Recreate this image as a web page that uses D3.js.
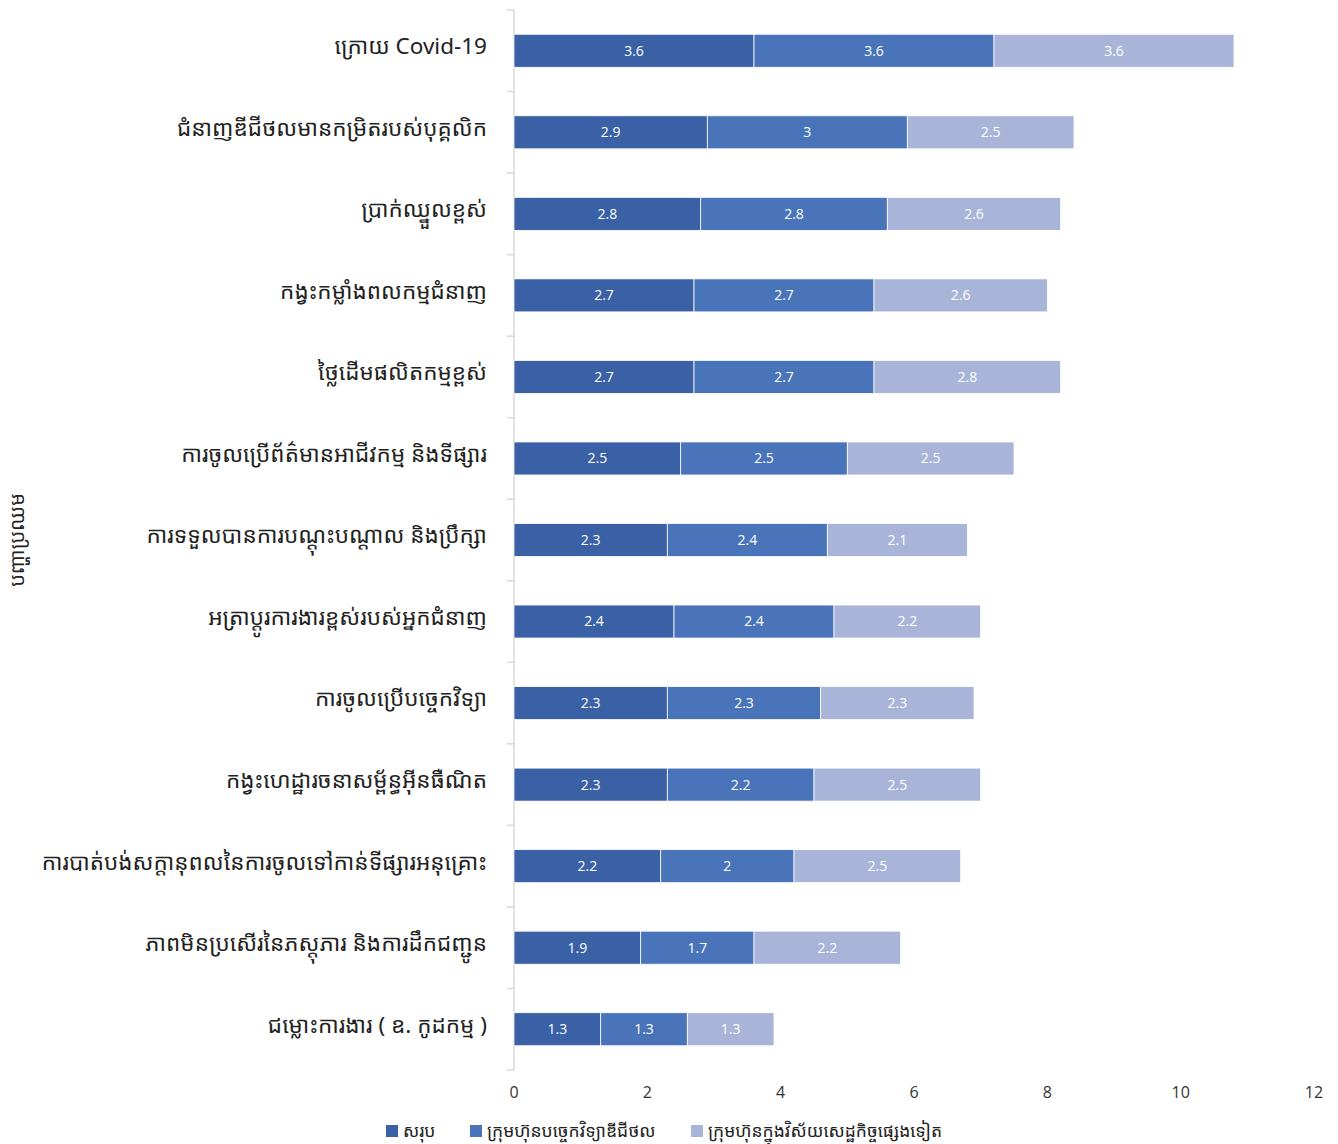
<!DOCTYPE html>
<html>
<head>
<meta charset="utf-8">
<script src="https://cdn.jsdelivr.net/npm/d3@7"></script>
<style>
  body { margin: 0; background: #fff; }
  svg text { font-family: "Noto Sans Khmer", "Khmer OS", "Noto Sans", "DejaVu Sans", sans-serif; }
</style>
</head>
<body>
<div id="chart"></div>
<script>
// categories, top to bottom
var categories = [
    "ក្រោយ Covid-19",
    "ជំនាញឌីជីថលមានកម្រិតរបស់បុគ្គលិក",
    "ប្រាក់ឈ្នួលខ្ពស់",
    "កង្វះកម្លាំងពលកម្មជំនាញ",
    "ថ្លៃដើមផលិតកម្មខ្ពស់",
    "ការចូលប្រើព័ត៌មានអាជីវកម្ម និងទីផ្សារ",
    "ការទទួលបានការបណ្តុះបណ្តាល និងប្រឹក្សា",
    "អត្រាប្តូរការងារខ្ពស់របស់អ្នកជំនាញ",
    "ការចូលប្រើបច្ចេកវិទ្យា",
    "កង្វះហេដ្ឋារចនាសម្ព័ន្ធអ៊ីនធឺណិត",
    "ការបាត់បង់សក្តានុពលនៃការចូលទៅកាន់ទីផ្សារអនុគ្រោះ",
    "ភាពមិនប្រសើរនៃភស្តុភារ និងការដឹកជញ្ជូន",
    "ជម្លោះការងារ ( ឧ. កូដកម្ម )"
];

var seriesNames = ["សរុប", "ក្រុមហ៊ុនបច្ចេកវិទ្យាឌីជីថល", "ក្រុមហ៊ុនក្នុងវិស័យសេដ្ឋកិច្ចផ្សេងទៀត"];

var total   = [3.6, 2.9, 2.8, 2.7, 2.7, 2.5, 2.3, 2.4, 2.3, 2.3, 2.2, 1.9, 1.3];
var digital = [3.6, 3,   2.8, 2.7, 2.7, 2.5, 2.4, 2.4, 2.3, 2.2, 2,   1.7, 1.3];
var other   = [3.6, 2.5, 2.6, 2.6, 2.8, 2.5, 2.1, 2.2, 2.3, 2.5, 2.5, 2.2, 1.3];

var xTicks = [0, 2, 4, 6, 8, 10, 12];
var axisTitle = "បញ្ហាប្រឈម";

var width = 1338,
    height = 1144,
    margin = {top: 10, right: 24, bottom: 74, left: 514};

var colors = ["#3A60A5", "#4A74BA", "#A9B5D8"];

// table for the stack
var rows = categories.map(function (c, i) {
    return {cat: c, s0: total[i], s1: digital[i], s2: other[i]};
});

var stack = d3.stack().keys(["s0", "s1", "s2"])(rows);

var x = d3.scaleLinear()
    .domain([0, 12])
    .range([margin.left, width - margin.right]);

var y = d3.scaleBand()
    .domain(categories)
    .range([margin.top, height - margin.bottom])
    .padding(0);

var barH = y.step() * 0.405;

var svg = d3.select("#chart")
    .append("svg")
    .attr("width", width)
    .attr("height", height);

// y axis line + ticks at band edges
svg.append("line")
    .attr("x1", x(0)).attr("x2", x(0))
    .attr("y1", margin.top).attr("y2", height - margin.bottom)
    .attr("stroke", "#d9d9d9").attr("stroke-width", 1.5);

var edges = categories.map(function (c) { return y(c); }).concat([height - margin.bottom]);
svg.selectAll(".ytick")
    .data(edges)
    .enter().append("line")
    .attr("x1", x(0) - 7).attr("x2", x(0))
    .attr("y1", function (d) { return d; })
    .attr("y2", function (d) { return d; })
    .attr("stroke", "#d9d9d9").attr("stroke-width", 1.5);

// category labels
svg.selectAll(".cat")
    .data(categories)
    .enter().append("text")
    .attr("x", x(0) - 27)
    .attr("y", function (d) { return y(d) + y.step() / 2; })
    .attr("dy", "0.15em")
    .attr("text-anchor", "end")
    .attr("font-size", 22.5)
    .attr("fill", "#222")
    .text(function (d) { return d; });

// x tick labels
svg.selectAll(".xt")
    .data(xTicks)
    .enter().append("text")
    .attr("x", function (d) { return x(d); })
    .attr("y", 1098)
    .attr("text-anchor", "middle")
    .attr("font-size", 16)
    .attr("fill", "#333")
    .style("font-family", "'Liberation Sans Narrow', 'Open Sans', sans-serif")
    .text(function (d) { return d; });

// bars
var layer = svg.selectAll(".layer")
    .data(stack)
    .enter().append("g")
    .attr("class", "layer")
    .attr("fill", function (d, i) { return colors[i]; });

layer.selectAll("rect")
    .data(function (d) { return d; })
    .enter().append("rect")
    .attr("x", function (d) { return x(d[0]); })
    .attr("width", function (d) { return x(d[1]) - x(d[0]); })
    .attr("y", function (d) { return y(d.data.cat) + (y.step() - barH) / 2; })
    .attr("height", barH)
    .attr("stroke", "#fff")
    .attr("stroke-width", 0.8);

layer.selectAll(".lbl")
    .data(function (d) { return d; })
    .enter().append("text")
    .attr("x", function (d) { return (x(d[0]) + x(d[1])) / 2; })
    .attr("y", function (d) { return y(d.data.cat) + y.step() / 2; })
    .attr("dy", "0.35em")
    .attr("text-anchor", "middle")
    .attr("font-size", 14)
    .attr("fill", "#fff")
    .style("font-family", "'Liberation Sans Narrow', 'Open Sans', sans-serif")
    .text(function (d) { return +(d[1] - d[0]).toFixed(1); });

// axis title
svg.append("text")
    .attr("transform", "translate(24," + (margin.top + (height - margin.bottom - margin.top) / 2) + ") rotate(-90)")
    .attr("text-anchor", "middle")
    .attr("font-size", 20)
    .attr("fill", "#222")
    .text(axisTitle);

// legend
var legendX = [386, 470, 691];
var legend = svg.selectAll(".leg")
    .data(seriesNames)
    .enter().append("g")
    .attr("transform", function (d, i) { return "translate(" + legendX[i] + ",1131)"; });

legend.append("rect")
    .attr("x", 0).attr("y", -6)
    .attr("width", 12).attr("height", 12)
    .attr("fill", function (d, i) { return colors[i]; });

legend.append("text")
    .attr("x", 17)
    .attr("y", 0)
    .attr("dy", "0.35em")
    .attr("font-size", 17.5)
    .attr("fill", "#222")
    .text(function (d) { return d; });
</script>
</body>
</html>
